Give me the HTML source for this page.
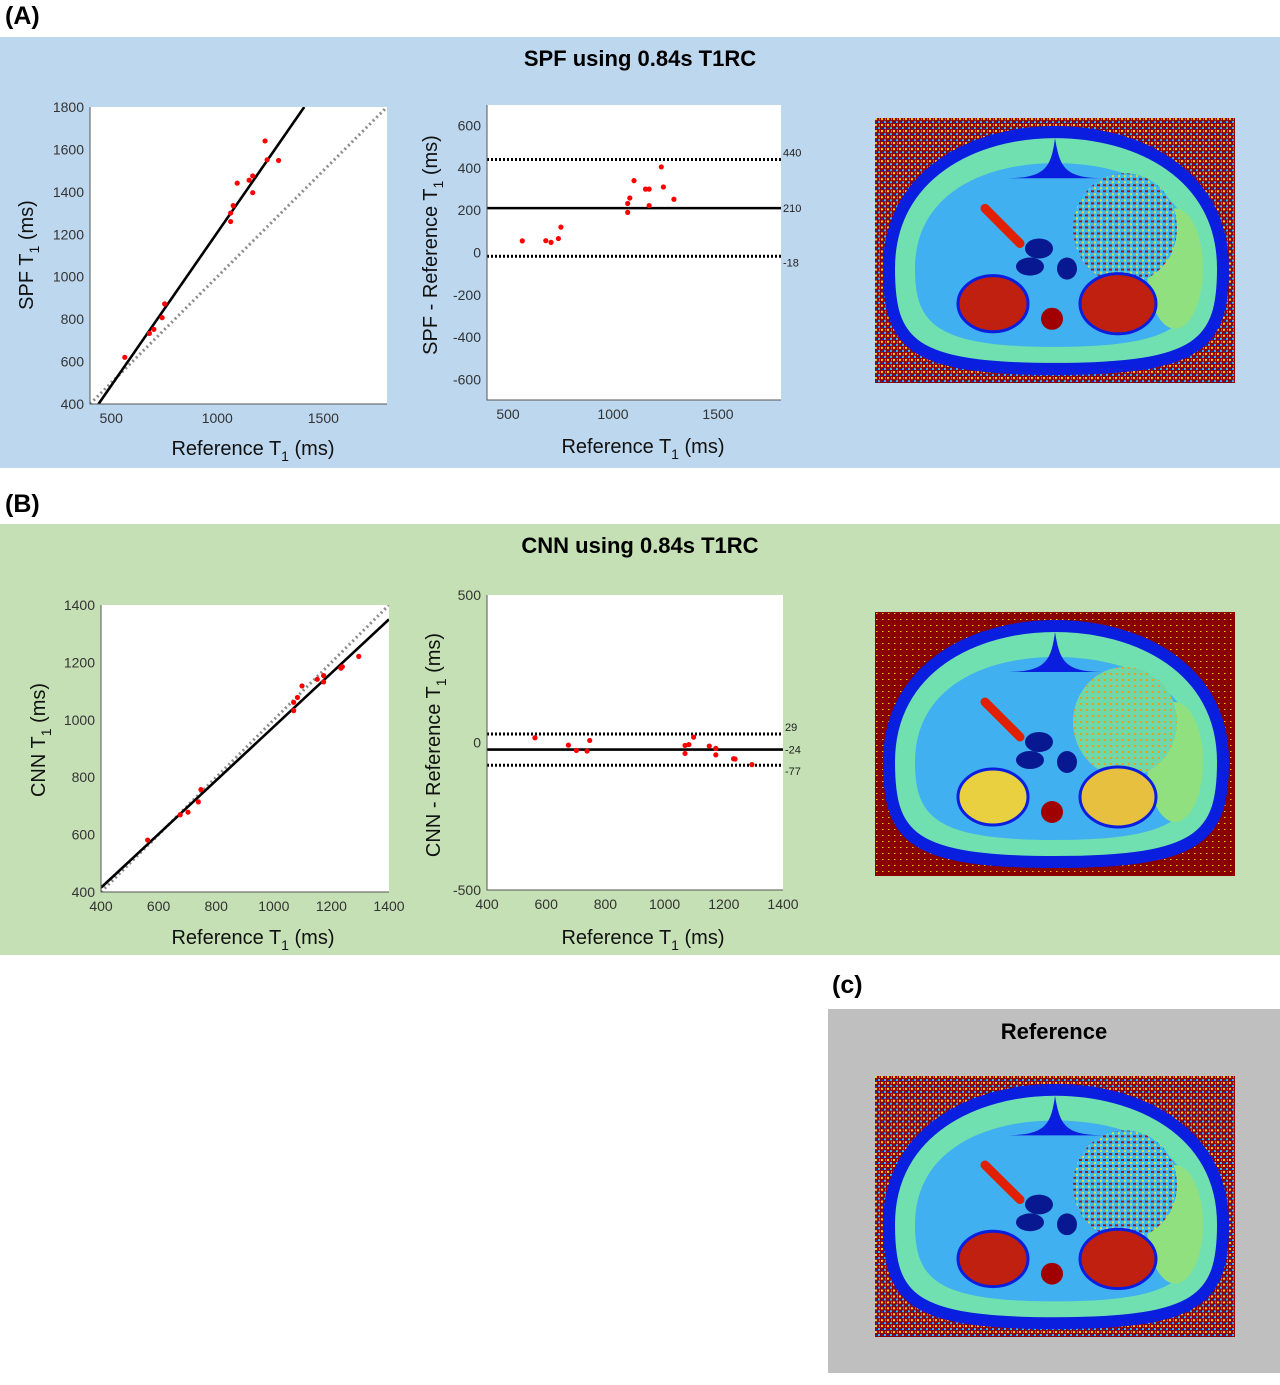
<!DOCTYPE html>
<html><head><meta charset="utf-8">
<style>
html,body{margin:0;padding:0;background:#fff;}
body{width:1280px;height:1385px;position:relative;overflow:hidden;font-family:"Liberation Sans",sans-serif;}
.bg{position:absolute;}
.lbl{position:absolute;font-weight:bold;font-size:25px;color:#000;}
svg{position:absolute;left:0;top:0;}
</style></head><body>
<div class="lbl" style="left:5px;top:2px;">(A)</div>
<div class="bg" style="left:0;top:37px;width:1280px;height:431px;background:#bdd7ee;"></div>
<div class="lbl" style="left:5px;top:490px;">(B)</div>
<div class="bg" style="left:0;top:524px;width:1280px;height:431px;background:#c5e0b4;"></div>
<div class="lbl" style="left:832px;top:971px;">(c)</div>
<div class="bg" style="left:828px;top:1009px;width:452px;height:364px;background:#bfbfbf;"></div>
<svg id="s" width="1280" height="1385" xmlns="http://www.w3.org/2000/svg"></svg>
<script>
// ---- data ----
const spfRef = [564,680,701,740,752,1063,1063,1075,1094,1150,1167,1167,1225,1235,1289];
const spfVal = [620,733,752,807,872,1260,1300,1335,1441,1455,1475,1396,1640,1551,1548];
const spfBARef = [568,680,705,740,752,1070,1070,1080,1100,1155,1172,1172,1230,1240,1290];
const spfBADiff = [55,56,48,66,120,190,232,258,340,300,300,222,405,310,252];
const spfBALines = [440,210,-18];
const spfFit = [[440,400],[1410,1800]];
const cnnRef = [562,675,702,738,747,1069,1069,1082,1098,1151,1173,1173,1233,1238,1295];
const cnnVal = [581,669,678,714,757,1032,1061,1078,1118,1141,1132,1154,1180,1185,1221];
const cnnBARef = [562,675,702,738,747,1069,1069,1082,1098,1151,1173,1173,1233,1238,1295];
const cnnBADiff = [16,-9,-27,-29,7,-37,-10,-7,18,-12,-42,-20,-55,-56,-75];
const cnnBALines = [29,-24,-77];
const cnnFit = [[400,415],[1400,1350]];
const spfXTicks = [500,1000,1500];
const spfYTicks = [400,600,800,1000,1200,1400,1600,1800];
const spfBAYTicks = [600,400,200,0,-200,-400,-600];
const cnnXTicks = [400,600,800,1000,1200,1400];
const cnnYTicks = [400,600,800,1000,1200,1400];
const cnnBAYTicks = [500,0,-500];

const NS="http://www.w3.org/2000/svg";
const svg=document.getElementById('s');
function el(tag,attrs,parent,text){const e=document.createElementNS(NS,tag);for(const k in attrs)e.setAttribute(k,attrs[k]);if(text!==undefined)e.textContent=text;(parent||svg).appendChild(e);return e;}
function lin(d0,d1,r0,r1){return v=>r0+(v-d0)*(r1-r0)/(d1-d0);}
const TF='"Liberation Sans Narrow","Liberation Sans",sans-serif';

function title(x,y,t,name){const e=el('text',{x:x,y:y,'text-anchor':'middle','font-size':22,'font-weight':'bold','font-family':'"Liberation Sans",sans-serif',fill:'#000'},svg,t);}

function xTitle(cx,y,name){const t=el('text',{x:cx,y:y,'text-anchor':'middle','font-size':20,'font-family':'"Liberation Sans",sans-serif',fill:'#111'});
 el('tspan',{},t,'Reference T');el('tspan',{dy:6,'font-size':14},t,'1');el('tspan',{dy:-6},t,' (ms)');}
function yTitle(x,cy,pre,name){const t=el('text',{x:0,y:0,'text-anchor':'middle','font-size':20,'font-family':'"Liberation Sans",sans-serif',fill:'#111',transform:`translate(${x},${cy}) rotate(-90)`});
 el('tspan',{},t,pre+'T');el('tspan',{dy:6,'font-size':14},t,'1');el('tspan',{dy:-6},t,' (ms)');}

function scatter(o){
 const g=el('g',{});
 el('rect',{x:o.x0,y:o.y0,width:o.x1-o.x0,height:o.y1-o.y0,fill:'#fff'},g);
 const X=lin(o.xd[0],o.xd[1],o.x0,o.x1),Y=lin(o.yd[0],o.yd[1],o.y1,o.y0);
 const cp='cp'+o.name;const c=el('clipPath',{id:cp},g);el('rect',{x:o.x0,y:o.y0,width:o.x1-o.x0,height:o.y1-o.y0},c);
 const lo=Math.max(o.xd[0],o.yd[0]),hi=Math.min(o.xd[1],o.yd[1]);
 const id=el('line',{x1:X(lo),y1:Y(lo),x2:X(hi),y2:Y(hi),stroke:'#8c8c8c','stroke-width':3,'stroke-dasharray':'2,3','clip-path':`url(#${cp})`},g);
 
 const f=el('line',{x1:X(o.fit[0][0]),y1:Y(o.fit[0][1]),x2:X(o.fit[1][0]),y2:Y(o.fit[1][1]),stroke:'#000','stroke-width':2.6,'clip-path':`url(#${cp})`},g);
 
 o.xs.forEach((v,i)=>{const p=el('circle',{cx:X(v),cy:Y(o.ys[i]),r:2.6,fill:'#f00'},g);});
 el('path',{d:`M${o.x0},${o.y0}V${o.y1}H${o.x1}`,stroke:'#555',fill:'none','stroke-width':1},g);
 o.xt.forEach(v=>{const t=el('text',{x:X(v),y:o.y1+19,'text-anchor':'middle','font-size':14,'font-family':TF,fill:'#333'},g,v);});
 o.yt.forEach(v=>{const t=el('text',{x:o.x0-6,y:Y(v)+5,'text-anchor':'end','font-size':14,'font-family':TF,fill:'#333'},g,v);});
}
function ba(o){
 const g=el('g',{});
 el('rect',{x:o.x0,y:o.y0,width:o.x1-o.x0,height:o.y1-o.y0,fill:'#fff'},g);
 const X=lin(o.xd[0],o.xd[1],o.x0,o.x1),Y=lin(o.yd[0],o.yd[1],o.y1,o.y0);
 o.lines.forEach((v,i)=>{const l=el('line',{x1:o.x0,y1:Y(v),x2:o.x1,y2:Y(v),stroke:'#000','stroke-width':i==1?2.6:3,'stroke-dasharray':i==1?'':'2,2'},g);
  
  const t=el('text',{x:o.x1+2,y:Y(v)+(i==0?-3:i==2?10:4),'font-size':11,'font-family':TF,fill:'#222'},g,v);});
 o.xs.forEach((v,i)=>{const p=el('circle',{cx:X(v),cy:Y(o.ys[i]),r:2.6,fill:'#f00'},g);});
 el('path',{d:`M${o.x0},${o.y0}V${o.y1}H${o.x1}`,stroke:'#555',fill:'none','stroke-width':1},g);
 o.xt.forEach(v=>{const t=el('text',{x:X(v),y:o.y1+19,'text-anchor':'middle','font-size':14,'font-family':TF,fill:'#333'},g,v);});
 o.yt.forEach(v=>{const t=el('text',{x:o.x0-6,y:Y(v)+5,'text-anchor':'end','font-size':14,'font-family':TF,fill:'#333'},g,v);});
}
function mri(x,y,w,h,mode,name){
 const g=el('g',{transform:`translate(${x},${y}) scale(${w/360},${h/264})`});
 const pid='pat'+name;const pat=el('pattern',{id:pid,width:6,height:6,patternUnits:'userSpaceOnUse'},g);
 if(mode=='clean'){el('rect',{width:6,height:6,fill:'#8a0000'},pat);el('rect',{x:1,y:1,width:1.5,height:1,fill:'#ffd000'},pat);}
 else {el('rect',{width:6,height:6,fill:'#900000'},pat);el('rect',{x:0,y:0,width:2,height:2,fill:'#ffd000'},pat);el('rect',{x:3,y:3,width:2,height:2,fill:'#30c0ff'},pat);el('rect',{x:4,y:0,width:1,height:2,fill:'#ff6000'},pat);el('rect',{x:0,y:4,width:2,height:1,fill:'#1030e0'},pat);}
 const sid='st'+name;const sp=el('pattern',{id:sid,width:6,height:6,patternUnits:'userSpaceOnUse'},g);
 if(mode=='clean'){el('rect',{width:6,height:6,fill:'#70d8a8'},sp);el('rect',{x:1,y:1,width:2,height:2,fill:'#e8a020'},sp);}
 else {el('rect',{width:6,height:6,fill:'#40b8f0'},sp);el('rect',{x:0,y:0,width:3,height:2,fill:'#b01010'},sp);el('rect',{x:3,y:3,width:2,height:2,fill:'#e0e030'},sp);}
 el('rect',{width:360,height:264,fill:`url(#${pid})`},g);
 const body='M14,150 C14,55 100,14 180,14 C262,14 348,55 348,150 C348,225 325,250 180,250 C35,250 14,225 14,150 Z';
 el('path',{d:body,fill:'#70e0b0',stroke:'#0a1ee0','stroke-width':12},g);
 el('path',{d:'M40,150 C40,75 110,45 180,45 C255,45 322,75 322,150 C322,205 300,228 180,228 C60,228 40,205 40,150 Z',fill:'#40b0f0'},g);
 el('path',{d:'M180,20 C185,50 190,60 230,60 L130,60 C170,60 176,50 180,20Z',fill:'#0a1ee0'},g);
 el('ellipse',{cx:300,cy:150,rx:28,ry:60,fill:'#90e080'},g);
 el('ellipse',{cx:250,cy:110,rx:52,ry:55,fill:`url(#${sid})`},g);
 el('path',{d:'M110,90 L145,125',stroke:'#e02000','stroke-width':9,'stroke-linecap':'round'},g);
 el('ellipse',{cx:164,cy:130,rx:14,ry:10,fill:'#081890'},g);
 el('ellipse',{cx:155,cy:148,rx:14,ry:9,fill:'#081890'},g);
 el('ellipse',{cx:192,cy:150,rx:10,ry:11,fill:'#081890'},g);
 el('ellipse',{cx:118,cy:185,rx:35,ry:28,fill:mode=='clean'?'#e8d040':'#c02010',stroke:'#0a1ee0','stroke-width':3},g);
 el('ellipse',{cx:243,cy:185,rx:38,ry:30,fill:mode=='clean'?'#e8c040':'#c02010',stroke:'#0a1ee0','stroke-width':3},g);
 el('circle',{cx:177,cy:200,r:11,fill:'#a00000'},g);
}

title(640,66,'SPF using 0.84s T1RC','panel-a-title');
scatter({name:'spf-scatter-plot',x0:90,x1:387,y0:107,y1:404,xd:[400,1800],yd:[400,1800],xs:spfRef,ys:spfVal,fit:spfFit,xt:spfXTicks,yt:spfYTicks});
xTitle(253,455,'spf-scatter-x-title');yTitle(33,255,'SPF ','spf-scatter-y-title');
ba({name:'spf-bland-altman-plot',x0:487,x1:781,y0:105,y1:400,xd:[400,1800],yd:[-698,698],xs:spfBARef,ys:spfBADiff,lines:spfBALines,xt:spfXTicks,yt:spfBAYTicks});
xTitle(643,453,'spf-ba-x-title');yTitle(437,245,'SPF - Reference ','spf-ba-y-title');
mri(875,118,360,265,'noisy','spf-t1-map');

title(640,553,'CNN using 0.84s T1RC','panel-b-title');
scatter({name:'cnn-scatter-plot',x0:101,x1:389,y0:605,y1:892,xd:[400,1400],yd:[400,1400],xs:cnnRef,ys:cnnVal,fit:cnnFit,xt:cnnXTicks,yt:cnnYTicks});
xTitle(253,944,'cnn-scatter-x-title');yTitle(45,740,'CNN ','cnn-scatter-y-title');
ba({name:'cnn-bland-altman-plot',x0:487,x1:783,y0:595,y1:890,xd:[400,1400],yd:[-500,500],xs:cnnBARef,ys:cnnBADiff,lines:cnnBALines,xt:cnnXTicks,yt:cnnBAYTicks});
xTitle(643,944,'cnn-ba-x-title');yTitle(440,745,'CNN - Reference ','cnn-ba-y-title');
mri(875,612,360,264,'clean','cnn-t1-map');

title(1054,1039,'Reference','panel-c-title');
mri(875,1076,360,261,'noisy','reference-t1-map');
</script>
</body></html>
